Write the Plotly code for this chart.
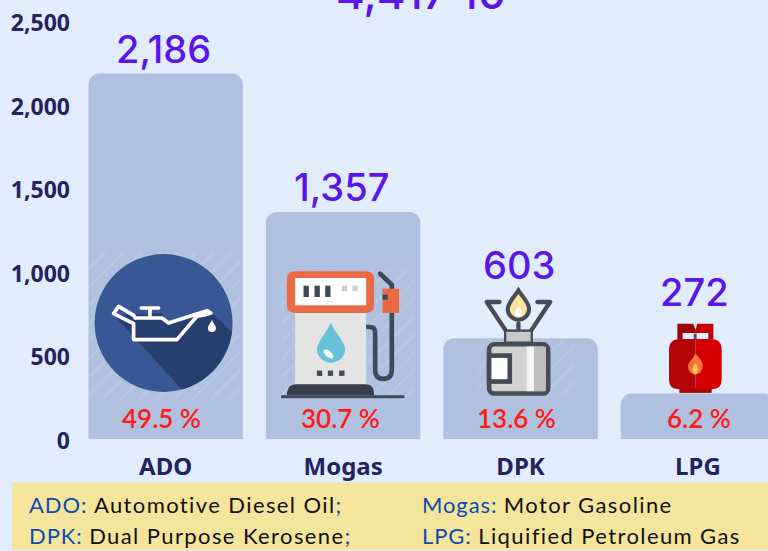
import base64
import plotly.graph_objects as go

categories = ["ADO", "Mogas", "DPK", "LPG"]
volumes = [2186, 1357, 603, 272]
volume_labels = ["2,186", "1,357", "603", "272"]
shares = ["49.5 %", "30.7 %", "13.6 %", "6.2 %"]
tick_values = [0, 500, 1000, 1500, 2000, 2500]
tick_labels = ["0", "500", "1,000", "1,500", "2,000", "2,500"]
total_label = "4,417 10"

W, H = 768, 551
TOP, BASE = 21, 439.5
LEFT = 76.7


def px(x):
    return (x - LEFT) / (W - LEFT)


def py(y):
    return (BASE - y) / (BASE - TOP)


def hatch(x0, y0, x1, y1):
    s = f'<clipPath id="h{x0}"><rect x="{x0}" y="{y0}" width="{x1-x0}" height="{y1-y0}"/></clipPath><g clip-path="url(#h{x0})" stroke="#fff" stroke-opacity=".08" stroke-width="3">'
    h = y1 - y0
    for i in range(x0 - h, x1, 18):
        s += f'<line x1="{i}" y1="{y1}" x2="{i+h}" y2="{y0}"/>'
    return s + "</g>"


DARK = "#3F4A59"
oil = '''
<clipPath id="c"><circle cx="220" cy="220" r="207"/></clipPath>
<circle cx="220" cy="220" r="207" fill="#3A5795"/>
<path clip-path="url(#c)" d="M70 195 L275 420 L450 420 L450 270 L365 190 L235 220 L215 190 L130 195 Z" fill="#273F6E"/>
<g fill="none" stroke="#fff" stroke-width="11" stroke-linejoin="round" stroke-linecap="round">
<path d="M70 192 L85 170 L130 197 L135 205 L215 205 L235 220 L350 183 L362 190 L345 195 L320 200 L260 270 L130 270 L130 222 Z"/>
<path d="M153 175 L205 175 M179 175 L179 205"/></g>
<path d="M365 210 C370 222 377 228 377 235 A12 12 0 0 1 353 235 C353 228 360 222 365 210Z" fill="#fff"/>'''

pump = f'''
<rect x="615" y="185" width="213" height="222" fill="#E4E4E4"/>
<path d="M828 232 L840 232 Q855 232 855 250 L855 360 Q855 388 880 388 Q905 388 905 360 L905 190" fill="none" stroke="{DARK}" stroke-width="14"/>
<path d="M870 72 L905 105 L905 120" fill="none" stroke="{DARK}" stroke-width="14" stroke-linecap="round"/>
<rect x="590" y="65" width="262" height="125" rx="22" fill="#E96A45"/>
<rect x="615" y="85" width="213" height="82" fill="#fff"/>
<rect x="640" y="108" width="16" height="34" fill="{DARK}"/><rect x="673" y="108" width="16" height="34" fill="{DARK}"/><rect x="705" y="108" width="16" height="34" fill="{DARK}"/>
<rect x="755" y="108" width="16" height="16" fill="#ccc"/><rect x="787" y="108" width="16" height="16" fill="#ccc"/>
<rect x="877" y="117" width="50" height="73" fill="#E96A45"/><rect x="877" y="135" width="16" height="15" fill="{DARK}"/>
<path d="M722 220 C740 258 765 275 765 303 A43 43 0 0 1 680 303 C680 275 704 258 722 220Z" fill="#67C2D8"/>
<ellipse cx="715" cy="313" rx="18" ry="9" transform="rotate(40 715 313)" fill="#fff"/>
<rect x="680" y="363" width="16" height="16" fill="{DARK}"/><rect x="713" y="363" width="16" height="16" fill="{DARK}"/><rect x="747" y="363" width="16" height="16" fill="{DARK}"/>
<path d="M590 437 C590 415 600 404 620 404 L825 404 C845 404 852 415 852 437Z" fill="#363F4D"/>
<rect x="573" y="437" width="370" height="9" fill="{DARK}"/>'''

stove = '''
<path d="M175 122 C190 145 207 160 207 178 A32 32 0 0 1 143 178 C143 160 160 145 175 122Z" fill="#F9E39F" stroke="#454C56" stroke-width="12"/>
<path d="M175 170 C183 180 186 185 186 190 A11 11 0 0 1 164 190 C164 185 167 180 175 170Z" fill="#fff"/>
<path d="M80 157 L118 157 M80 157 L135 240 M270 157 L232 157 M270 157 L215 240 M175 222 L175 240" fill="none" stroke="#454C56" stroke-width="13" stroke-linecap="round"/>
<rect x="135" y="243" width="80" height="36" fill="#C8C8C8" stroke="#454C56" stroke-width="7"/>
<rect x="87" y="284" width="177" height="148" rx="16" fill="#D2D2D2" stroke="#454C56" stroke-width="14"/>
<rect x="200" y="291" width="22" height="134" fill="#F4F4F4"/><rect x="222" y="291" width="35" height="134" fill="#BEBEBE"/>
<rect x="87" y="318" width="62" height="78" fill="#fff" stroke="#454C56" stroke-width="14"/>'''

lpg = '''
<path d="M652 222 L700 222 Q706 240 707 240 L707 250 L668 250 L668 270 L652 270Z" fill="#9E0505"/>
<path d="M760 222 L712 222 Q707 240 706 240 L706 250 L745 250 L745 270 L760 270Z" fill="#C20000"/>
<rect x="701" y="252" width="9" height="18" fill="#555"/>
<rect x="658" y="416" width="97" height="14" fill="#A80505"/>
<path d="M707 268 L660 268 Q627 268 627 300 L627 390 Q627 419 655 419 L707 419Z" fill="#B30606"/>
<path d="M707 268 L752 268 Q785 268 785 300 L785 390 Q785 419 757 419 L707 419Z" fill="#D60000"/>
<path d="M706 312 C722 328 730 340 728 352 C724 381 688 381 684 352 C683 340 695 335 706 312Z" fill="#F9733F"/>
<path d="M706 340 C716 352 717 372 706 375 C695 372 696 352 706 340Z" fill="#FFC44D"/>'''

overlay = (
    f'<svg xmlns="http://www.w3.org/2000/svg" width="{W}" height="{H}" viewBox="0 0 {W} {H}">'
    + hatch(88, 252, 240, 400) + hatch(281, 270, 415, 400) + hatch(478, 281, 575, 395) + hatch(640, 322, 735, 392)
    + f'<g transform="translate(90 250) scale(0.3333)">{oil}{pump}</g>'
    + f'<g transform="translate(460 250) scale(0.3333)">{stove}{lpg}</g>'
    + "</svg>"
)
overlay_uri = "data:image/svg+xml;base64," + base64.b64encode(overlay.encode()).decode()

fig = go.Figure(go.Bar(x=categories, y=volumes, width=154.5 / 177.5, marker_color="#B0C1DF",
                       marker_line_width=0, hoverinfo="skip"))

label_lift = [0, 0, 48, 77]
label_shift = [-2, -2, -2, -3]
share_shift = [-4, -3, -4, 1]
annotations = []
for c, v, t, lift, dx, s, sdx in zip(categories, volumes, volume_labels, label_lift, label_shift, shares, share_shift):
    annotations.append(dict(x=c, y=v, text=t, showarrow=False, yanchor="bottom", yshift=lift, xshift=dx,
                            font=dict(family="Inter, Roboto", size=38, color="#5B14EE", weight=500)))
    annotations.append(dict(x=c, y=0, text=s, showarrow=False, yanchor="middle", yshift=21, xshift=sdx,
                            font=dict(family="Lato", size=26, color="#FF1A1A", weight=600)))
annotations.append(dict(xref="paper", yref="paper", x=px(421), y=py(-7), text=total_label, showarrow=False,
                        font=dict(family="Inter, Roboto", size=44, color="#5B14EE", weight=500), yanchor="middle"))

BLUE, BLACK = "#0B4CB0", "#111111"
footer = [
    (27, 505, "ADO", ": ", "Automotive Diesel Oil", ";"),
    (420, 505, "Mogas", ": ", "Motor Gasoline", ""),
    (27, 536, "DPK", ": ", "Dual Purpose Kerosene", ";"),
    (420, 536, "LPG", ": ", "Liquified Petroleum Gas", ""),
]
SP = "letter-spacing:0.9px"
SP2 = "letter-spacing:1.4px"
for x, y, a, sep, b, end in footer:
    annotations.append(dict(
        xref="paper", yref="paper", x=px(x), y=py(y), xanchor="left", yanchor="middle", showarrow=False,
        text=f'<span style="color:{BLUE};{SP}">{a}{sep}</span><span style="color:{BLACK};{SP2}">{b}</span><span style="color:{BLUE};{SP}">{end}</span>',
        font=dict(family="Lato", size=22)))

fig.update_layout(
    width=W, height=H, autosize=False,
    margin=dict(l=LEFT, r=0, t=TOP, b=H - BASE, pad=0),
    paper_bgcolor="#E1EDFC", plot_bgcolor="#E1EDFC",
    showlegend=False, barcornerradius=11,
    images=[dict(source=overlay_uri, xref="paper", yref="paper", x=px(0), y=py(0),
                 sizex=W / (W - LEFT), sizey=H / (BASE - TOP), xanchor="left", yanchor="top",
                 sizing="stretch", layer="above")],
    annotations=annotations,
    shapes=[dict(type="rect", xref="paper", yref="paper", x0=px(12), x1=1, y0=py(483), y1=py(551),
                 fillcolor="#F5E49B", line_width=0, layer="below")],
    xaxis=dict(range=[-0.5, 3.395], showgrid=False, zeroline=False, showline=False, ticks="",
               ticklabelstandoff=11, tickfont=dict(family="Noto Sans", size=24, color="#25235F", weight=700)),
    yaxis=dict(range=[0, 2500], tickvals=tick_values, ticktext=tick_labels, showgrid=False, zeroline=False,
               showline=False, ticks="", ticklabelstandoff=6, ticklabelshift=2,
               tickfont=dict(family="Noto Sans", size=23, color="#25235F", weight=700)),
)
fig.write_html("out.html", config=dict(displayModeBar=False),
               post_script="document.body.style.margin='0';document.body.style.overflow='hidden';")
